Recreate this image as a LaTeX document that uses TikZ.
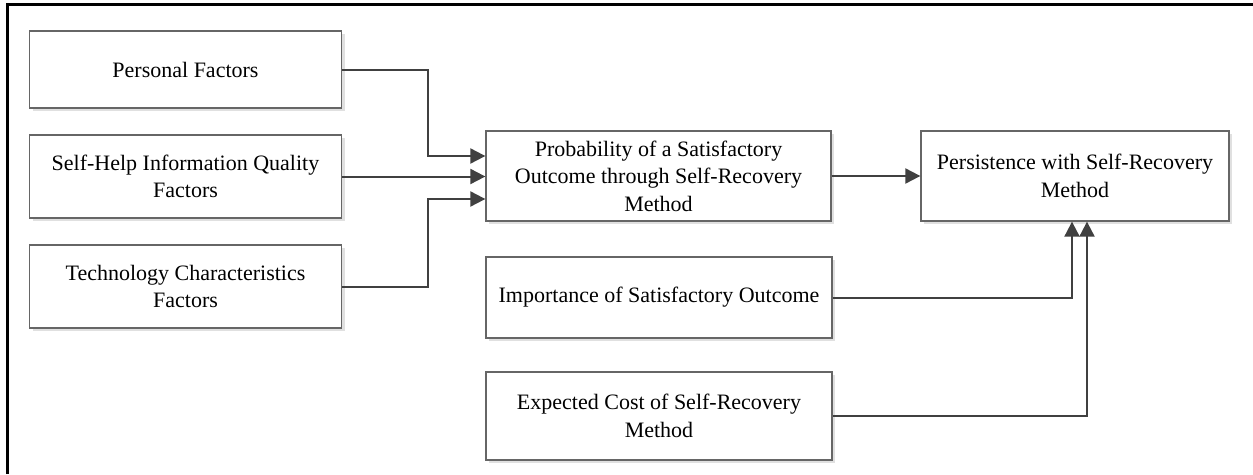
\documentclass[tikz,border=0pt]{standalone}
\usepackage{fontspec}
\setmainfont{Liberation Serif}
\usetikzlibrary{arrows.meta,shadows}
\definecolor{boxline}{HTML}{666666}
\definecolor{arrline}{HTML}{404040}
\begin{document}
\begin{tikzpicture}[x=1pt,y=-1pt,
  box/.style={draw=boxline, line width=1.3pt, fill=white, align=center,
    inner sep=0pt, font=\fontsize{22}{27.5}\selectfont,
    drop shadow={shadow xshift=3pt, shadow yshift=-3pt, fill=black!12, opacity=1}},
  arr/.style={draw=arrline, line width=2pt,
    -{Triangle[length=15pt,width=15pt]}}]
\useasboundingbox (0,0) rectangle (1253,474);
\fill[white] (0,0) rectangle (1253,474);
\draw[line width=3pt, black] (7.5,474) -- (7.5,4.5) -- (1253,4.5);

\node[box, minimum width=312pt, minimum height=77pt] (b1) at (185.5,69.5) {Personal Factors};
\node[box, minimum width=312pt, minimum height=83pt] (b2) at (185.5,176.5) {Self-Help Information Quality\\Factors};
\node[box, minimum width=312pt, minimum height=83pt] (b3) at (185.5,286.5) {Technology Characteristics\\Factors};
\node[box, minimum width=345pt, minimum height=90pt] (b4) at (658.5,176) {Probability of a Satisfactory\\Outcome through Self-Recovery\\Method};
\node[box, minimum width=346pt, minimum height=81pt] (b5) at (659,297.5) {Importance of Satisfactory Outcome};
\node[box, minimum width=346pt, minimum height=88pt] (b6) at (659,416) {Expected Cost of Self-Recovery\\Method};
\node[box, minimum width=308pt, minimum height=90pt] (b7) at (1075,176) {Persistence with Self-Recovery\\Method};

\draw[arr] (b1.east) -- ++(86pt,0) |- ([yshift=20pt]b4.west);
\draw[arr] (b2.east) -- (b2.east -| b4.west);
\draw[arr] (b3.east) -- ++(86pt,0) |- ([yshift=-23pt]b4.west);
\draw[arr] (b4.east) -- (b7.west);
\draw[arr] (b5.east) -| ([xshift=-3pt]b7.south);
\draw[arr] (b6.east) -| ([xshift=12pt]b7.south);
\end{tikzpicture}
\end{document}
